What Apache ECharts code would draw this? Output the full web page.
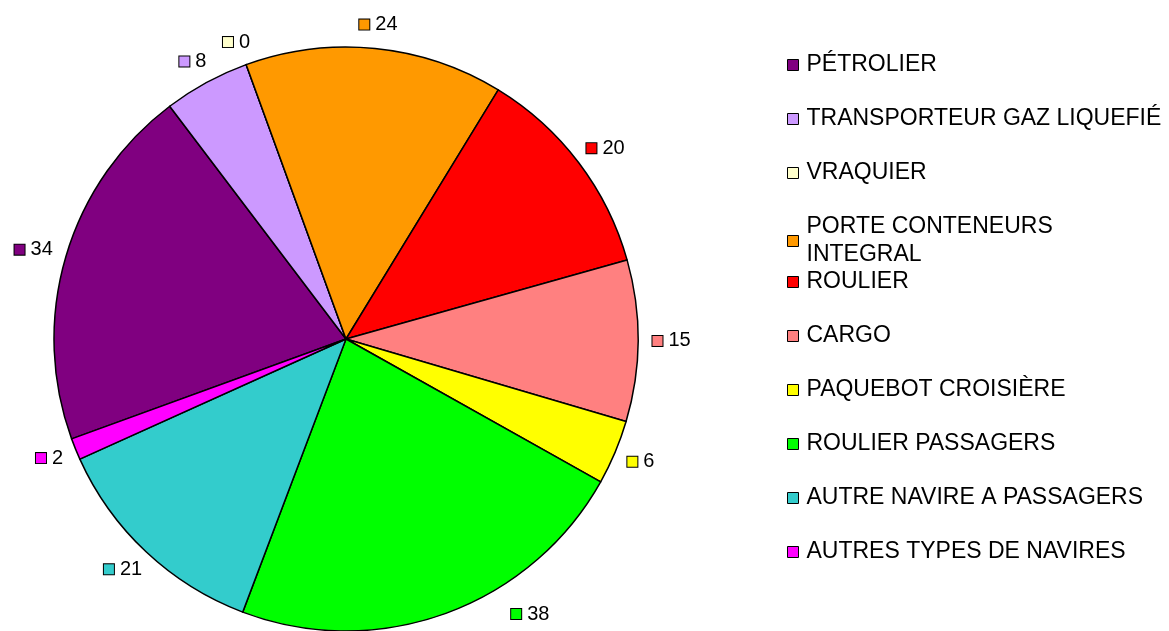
<!DOCTYPE html>
<html>
<head>
<meta charset="utf-8">
<script src="https://cdn.jsdelivr.net/npm/echarts@6/dist/echarts.min.js"></script>
<style>
  html, body { margin: 0; padding: 0; background: #fff; }
  #chart { width: 1169px; height: 631px; }
</style>
</head>
<body>
<div id="chart"></div>
<script>
const categories = [
  'PÉTROLIER',
  'TRANSPORTEUR GAZ LIQUEFIÉ',
  'VRAQUIER',
  'PORTE CONTENEURS INTEGRAL',
  'ROULIER',
  'CARGO',
  'PAQUEBOT CROISIÈRE',
  'ROULIER PASSAGERS',
  'AUTRE NAVIRE A PASSAGERS',
  'AUTRES TYPES DE NAVIRES',
]
const values = [34, 8, 0, 24, 20, 15, 6, 38, 21, 2]
const colors = [
  '#800080', '#CC99FF', '#FFFFCC', '#FF9900', '#FF0000',
  '#FF8080', '#FFFF00', '#00FF00', '#33CCCC', '#FF00FF',
]

const CX = 346, CY = 339, R = 292
const START = 200
const GAP = 14
const BOTTOM = 624 // labels kept inside the picture
const FONT = 'Liberation Sans, Arial, sans-serif'

// mid angle of each slice, so labels sit just outside like the original
const total = values.reduce((a, b) => a + b, 0)
const midAngles = []
let cur = START
values.forEach(v => {
  const span = v / total * 360
  midAngles.push(cur - span / 2)
  cur -= span
})

const chart = echarts.init(document.getElementById('chart'), null, { renderer: 'canvas' })

// the long legend name wraps but does not push the next entry down,
// so the legend is split in two blocks
const legendBase = {
  orient: 'vertical',
  left: 782,
  icon: 'rect',
  itemWidth: 11,
  itemHeight: 11,
  itemGap: 26,
  itemStyle: { borderColor: '#000', borderWidth: 1 },
  selectedMode: false,
  textStyle: {
    fontFamily: FONT,
    fontSize: 23,
    color: '#000',
    lineHeight: 28,
    padding: [0, 0, 0, 3],
  },
  formatter: name => name === 'PORTE CONTENEURS INTEGRAL' ? 'PORTE CONTENEURS\nINTEGRAL' : name,
}

const option = {
  animation: false,
  backgroundColor: '#fff',
  color: colors,
  legend: [
    Object.assign({}, legendBase, { top: 46, data: categories.slice(0, 4) }),
    Object.assign({}, legendBase, { top: 263, data: categories.slice(4) }),
  ],
  series: [
    {
      type: 'pie',
      center: [CX, CY],
      radius: R,
      startAngle: START,
      clockwise: true,
      avoidLabelOverlap: false,
      silent: true,
      itemStyle: { borderColor: '#000', borderWidth: 1.5 },
      labelLine: { show: false },
      label: {
        show: true,
        position: 'outside',
        fontFamily: FONT,
        fontSize: 20,
        color: '#000',
      },
      labelLayout: p => {
        const t = midAngles[p.dataIndex] * Math.PI / 180
        const c = Math.cos(t), s = Math.sin(t)
        const w = p.labelRect.width, h = p.labelRect.height
        let x = CX + (R + GAP) * c + w / 2 * c
        let y = CY - (R + GAP) * s - h / 2 * s
        if (y + h / 2 > BOTTOM) {
          // slide along the rim until it fits
          y = BOTTOM - h / 2
          const D = R + GAP + 6
          const dy = y - h / 2 - CY
          const dx = Math.sqrt(Math.max(0, D * D - dy * dy))
          x = CX + Math.sign(c) * (dx + w / 2)
        }
        return { x: x, y: y, align: 'center', verticalAlign: 'middle' }
      },
      data: categories.map((name, i) => ({
        name: name,
        value: values[i],
        label: {
          formatter: '{sq|}{gap|}{v|{c}}',
          rich: {
            sq: {
              width: 10,
              height: 10,
              backgroundColor: colors[i],
              borderColor: '#000',
              borderWidth: 1,
            },
            gap: { width: 6 },
            v: { fontFamily: FONT, fontSize: 20, color: '#000' },
          },
        },
      })),
    },
  ],
}

chart.setOption(option)
</script>
</body>
</html>
